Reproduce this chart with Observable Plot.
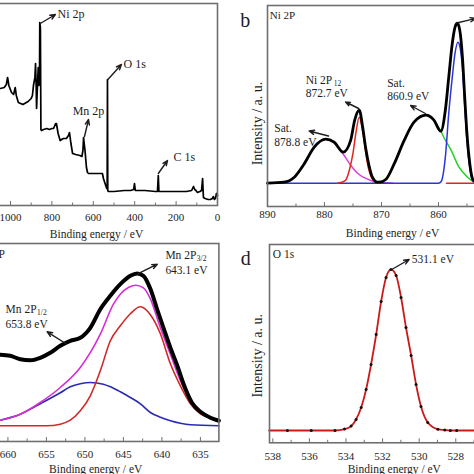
<!DOCTYPE html>
<html>
<head>
<meta charset="utf-8">
<script src="https://cdn.jsdelivr.net/npm/d3@7"></script>
<script src="https://cdn.jsdelivr.net/npm/@observablehq/plot@0.6"></script>
<style>
  body { margin: 0; background: #fff; }
  #fig { position: relative; width: 474px; height: 474px; overflow: hidden; background: #fff; }
  #fig svg { position: absolute; max-width: none; background: transparent; }
</style>
</head>
<body>
<div id="fig"></div>
<script>
// ---------- (a) survey spectrum ----------
const surveyEnergy = [1050,1030,1020,1014,1008,995,985,977,972,962,940,915,900,894,889,882,879,876,874,870,866,863,860,858.5,855.5,853,850,840,825,812,800,792,782,778,770,760,745,730,720,715,708,700,685,665,655,650,647,644,640,636,633,628,623,600,575,556,551,540,535,533,531.5,530,527,500,450,420,405,401,397,350,300,290,286,283,250,200,150,125,116,110,104,97,85,77,72,68,60,45,34,25,20,15,10,5,0];
const surveyIntensity = [117,118,121,128,120,113,111,118,110,103,101,104,107,110,120,128,142,120,97,118,138,120,122,183,178,76,75,76,77,76,77,77,82,82,72,65,67,67,70,73,62,52,51,50,49,55,68,62,55,45,38,33,32,32,32,32,27,20,17,18,126,15,14,14,15,15,16,22,15,15,14,14,30,14,14,14,14,15,19,16,15,13,14,15,27,8,7,6,6,7,9,6,7,12,10];
const surveyTicks = [1000, 800, 600, 400, 200, 0];
const surveyMinor = [1100, 900, 700, 500, 300, 100];
const surveyLabels = [["Ni 2p", 773, 191.5, "start"], ["O 1s", 454, 141, "start"], ["Mn 2p", 623, 94, "middle"], ["C 1s", 212.5, 48, "start"]];
const surveyArrows = [[856, 182, 783, 191], [529.5, 126, 464, 141], [642.5, 69, 623, 86], [286, 32, 241.5, 45]];

// ---------- (b) Ni 2p ----------
const niEnergy = [890,887.1,885.3,883.6,881.8,879.8,878.3,876.7,875.4,874.7,873.9,873.3,872.8,872.2,871.6,870.7,870.4,869.2,867.8,866.0,864.3,862.2,860.8,859.6,858.8,858.2,857.6,857.1,856.7,856.3,855.8,855.4,855.0,854.5,854.0,853.6];
const niIntensity = [0,1,6,19,36,44,41,31,43,63,73,56,36,18,6,1,1,4,19,43,61,68,63,52,73,106,139,156,160,154,126,86,49,19,4,2];
const niSat1E = [890,887.1,885.3,883.6,881.8,879.8,878.3,877.5,876.7,875.4,874.2,873,872,871,869.5,868];
const niSat1I = [0,1,6,19,36,44,40,35,29,18,10,5.5,3,1.5,0.5,0];
const niP12E = [877.8,877,876.3,875.6,875.0,874.5,873.9,873.3,872.8,872.3,871.7,871,870.5];
const niP12I = [0,1,3,14,30,50,66,52,32,15,5,1,0];
const niBaseE = [858.6, 853.6];
const niBaseI = [0, 0];
const niSat2E = [871.5,870.4,869.2,867.8,866.0,864.3,862.3,860.8,859.6,858.8,857.8,856.4,854.9,854.0,853.6];
const niSat2I = [0,1,4,19,43,61,68,63,52,43,33,16,6,2,1];
const niP32E = [890,860.0,859.5,858.8,858.2,857.6,857.1,856.6,856.3,855.8,855.4,855.0,854.5,854.0,853.6];
const niP32I = [0,0,2,26,70,105,130,141,138,115,78,42,15,2,0];
const niTicks = [890, 880, 870, 860];
const niMinor = [885, 875, 865, 855];
const niLabels = [["Sat.", 888.8, 54.4], ["878.8 eV", 888.8, 41], ["Ni 2P", 883.3, 102.7], ["872.7 eV", 883.3, 90], ["Sat.", 869.0, 99.4], ["860.9 eV", 869.0, 86.7]];
const niSubs = [["12", 883.3, 102.7]];
const niArrows = [[879.3, 47.2, 882.7, 52.2], [874.0, 74.7, 876.3, 81.2], [862.3, 69.7, 864.9, 77.7], [856.8, 160.2, 853.5, 164.7]];

// ---------- (c) Mn 2p ----------
const mnEnergy = [661.0,659.7,658.4,657.1,655.8,654.5,653.2,651.9,650.6,649.3,648.0,646.7,645.4,644.1,643.2,642.4,641.5,640.6,639.8,638.9,638.0,637.2,636.1,635.0,633.7,632.6];
const mnIntensity = [71,70,66.6,65.6,68,73,80,85,88,98,116.6,130,141.6,150,152.3,150,137,116,98,78,60,42,23,14,8,5];
const mnSumE = [661.0,658.4,655.8,653.2,650.6,648.0,646.3,645.4,644.3,643.4,642.4,641.5,640.2,638.9,637.6,636.3,634.6,632.6];
const mnSumI = [5.6,11.6,23.3,38.3,58.3,91.6,121.6,131.6,138.5,140.6,138,127,98,71.6,45,25,11.6,4.6];
const mnP32E = [661,655,653.2,651.9,650.6,649.3,648.0,646.7,645.4,644.1,642.8,641.5,640.2,638.9,637.6,636.3,635.0,633.7,632.6];
const mnP32I = [0,0,1.6,5.6,15,30,55,85,100,112,119,111,92,62,40,22,12,7.5,4.5];
const mnP12E = [661,658.4,655.8,653.2,651.9,650.6,649.3,647.6,646.7,645.4,644.1,642.8,641.5,640.2,638.9,637.6,636.3,632.6];
const mnP12I = [5.6,11.6,22,33,39,42,43.3,41.6,39,34,28.3,22,13.3,8.5,5,2.5,1,0];
const mnTicks = [660, 655, 650, 645, 640, 635];
const mnMinor = [662.5, 657.5, 652.5, 647.5, 642.5, 637.5];
const mnLabels = [["Mn 2P", 660.4, 171.3, "end"], ["Mn 2P", 639.55, 170, "start"], ["643.1 eV", 639.55, 155, "start"], ["Mn 2P", 660.3, 116.6, "start"], ["653.8 eV", 660.3, 101.6, "start"]];
const mnSubs = [["3/2", 639.55, 170], ["1/2", 660.3, 116.6]];
const mnArrows = [[643.2, 151.6, 640.6, 161.6], [652.5, 82.3, 654.9, 94]];

// ---------- (d) O 1s ----------
const oEnergy = [538.2,537.2,535.9,534.6,534.08,533.72,533.45,533.17,532.9,532.63,532.35,532.08,531.81,531.54,531.26,530.99,530.72,530.44,530.17,529.9,529.53,528.98,528.6,528.3,527.95,526.5];
const oIntensity = [0,0,0,0,1.4,4.4,11,23,41,66,96,129,153,161,155,133,103,75,46,24,8,1.3,0.4,0,0,0];
const oTicks = [538, 536, 534, 532, 530, 528];
const oMinor = [537, 535, 533, 531, 529, 527];
const oLabels = [["O 1s", 538.0, 176], ["531.1 eV", 530.4, 171]];
const oArrows = [[531.5, 161, 530.55, 171]];

// ---------- helpers ----------
const fig = document.getElementById("fig");
const FONT = "Liberation Serif";
const FRAME = "#707070";
const INK = "#1e1e1e";

function table(E, I) { return E.map((e, i) => ({E: e, I: I[i]})).sort((a, b) => a.E - b.E); }
function arrows(list) { return list.map(([x1, y1, x2, y2]) => ({x1, y1, x2, y2})); }
function labels(list) { return list.map(([t, E, I, a]) => ({t, E, I, a: a || "start"})); }

function curve(E, I, color, width, curveType) {
  return Plot.line(table(E, I), {x: "E", y: "I", stroke: color, strokeWidth: width, curve: curveType || "monotone-x"});
}
function arrowMark(list) {
  return Plot.arrow(arrows(list), {x1: "x1", y1: "y1", x2: "x2", y2: "y2", stroke: INK, strokeWidth: 1.4, headLength: 6, headAngle: 45});
}
function textMarks(list, size) {
  const L = labels(list);
  return ["start", "middle", "end"].map(a => Plot.text(L.filter(d => d.a === a), {x: "E", y: "I", text: "t", textAnchor: a, fontSize: size, fill: INK}));
}
function subMarks(list, dx) {
  return Plot.text(labels(list), {x: "E", y: "I", text: "t", textAnchor: "start", fontSize: 7.5, dx, dy: 3, fill: INK});
}

function panel(o) {
  const mL = 45, mR = 20, mT = 20, mB = 45;
  const svg = Plot.plot({
    width: mL + o.w + mR, height: mT + o.h + mB,
    marginLeft: mL, marginRight: mR, marginTop: mT, marginBottom: mB,
    x: {domain: o.xDomain, label: null},
    y: {domain: o.yDomain, axis: null, label: null},
    style: {fontFamily: FONT, background: "transparent", overflow: "visible", color: INK},
    marks: [
      ...o.marks,
      Plot.frame({stroke: FRAME, strokeWidth: 1.6}),
      Plot.axisX({ticks: o.minor, tickSize: -2.5, tickFormat: () => "", stroke: FRAME, label: null}),
      Plot.axisX({ticks: o.major, tickSize: -4, tickPadding: o.tickPad + 4, tickFormat: d => String(d), fontSize: 11, stroke: FRAME, fill: INK, label: null}),
      Plot.text(["Binding energy / eV"], {frameAnchor: "bottom", lineAnchor: "middle", dy: o.titleDy, text: d => d, fontSize: 11.5, fill: INK})
    ]
  });
  svg.style.left = (o.left - mL) + "px";
  svg.style.top = (o.top - mT) + "px";
  fig.append(svg);
}

// (a)
panel({
  left: -25, top: 3, w: 242, h: 202, xDomain: [1169, 0], yDomain: [0, 202],
  major: surveyTicks, minor: surveyMinor, tickPad: 8, titleDy: 28.5,
  marks: [
    curve(surveyEnergy, surveyIntensity, "#000", 1.7, "linear"),
    arrowMark(surveyArrows),
    ...textMarks(surveyLabels, 12)
  ]
});

// (b)
panel({
  left: 267, top: 5, w: 250, h: 201, xDomain: [890, 846.14], yDomain: [-23.3, 177.7],
  major: niTicks, minor: niMinor, tickPad: 4, titleDy: 26.5,
  marks: [
    curve(niSat1E, niSat1I, "#d845d8", 1.5),
    curve(niSat2E, niSat2I, "#28d028", 1.5),
    curve(niP32E, niP32I, "#2a35dc", 1.5),
    curve(niP12E, niP12I, "#e4241f", 1.5),
    curve(niBaseE, niBaseI, "#e4241f", 1.5, "linear"),
    curve(niEnergy, niIntensity, "#000", 2.8),
    arrowMark(niArrows),
    ...textMarks(niLabels, 11.5),
    subMarks(niSubs, 28),
    Plot.text([{t: "Ni 2P", E: 889.6, I: 167.7}], {x: "E", y: "I", text: "t", textAnchor: "start", fontSize: 11, fill: INK}),
    Plot.text([{t: "b", E: 893.9, I: 162.7}], {x: "E", y: "I", text: "t", fontSize: 20, fill: INK}),
    Plot.text([{t: "Intensity / a. u.", E: 891.75, I: 59.7}], {x: "E", y: "I", text: "t", rotate: -90, fontSize: 14, fill: INK})
  ]
});

// (c)
panel({
  left: -28.3, top: 243, w: 246.4, h: 198, xDomain: [664.6, 632.6], yDomain: [-15.7, 182.3],
  major: mnTicks, minor: mnMinor, tickPad: 9, titleDy: 27.5,
  marks: [
    curve(mnP12E, mnP12I, "#2a2ab4", 1.6),
    curve(mnP32E, mnP32I, "#cf2a2a", 1.6),
    curve(mnSumE, mnSumI, "#d62ed6", 1.6),
    curve(mnEnergy, mnIntensity, "#000", 4),
    arrowMark(mnArrows),
    ...textMarks(mnLabels, 11.5),
    subMarks(mnSubs, 31.5)
  ]
});

// (d)
const oData = table(oEnergy, oIntensity);
panel({
  left: 268.7, top: 243.7, w: 249.6, h: 198.3, xDomain: [538.18, 524.54], yDomain: [-12.3, 186],
  major: oTicks, minor: oMinor, tickPad: 9.5, titleDy: 27,
  marks: [
    Plot.line(oData, {x: "E", y: "I", stroke: "#cc1a1a", strokeWidth: 1.8, curve: "monotone-x"}),
    Plot.dot(oData.filter(d => d.E < 538 && d.E > 527), {x: "E", y: "I", r: 1.5, fill: "#111"}),
    arrowMark(oArrows),
    ...textMarks(oLabels, 11.5),
    Plot.text([{t: "d", E: 539.48, I: 172.2}], {x: "E", y: "I", text: "t", fontSize: 20, fill: INK}),
    Plot.text([{t: "Intensity / a. u.", E: 538.82, I: 74.7}], {x: "E", y: "I", text: "t", rotate: -90, fontSize: 14, fill: INK})
  ]
});
</script>
</body>
</html>
